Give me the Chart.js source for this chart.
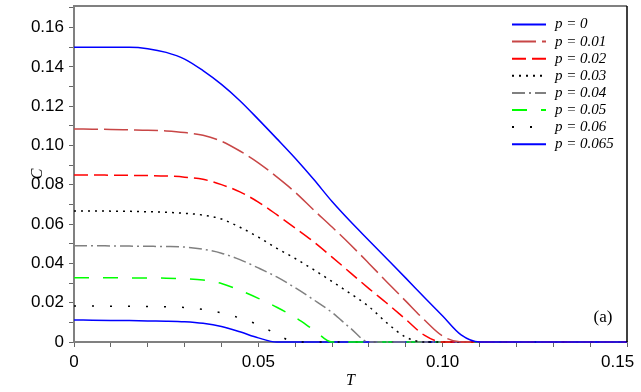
<!DOCTYPE html>
<html>
<head>
<meta charset="utf-8">
<script src="https://cdn.jsdelivr.net/npm/chart.js@4/dist/chart.umd.min.js"></script>
<style>
    body { margin: 0; background: #fff; }
    canvas { display: block; }
</style>
</head>
<body>
<canvas id="grafico" width="641" height="392"></canvas>
<script>
// valores de T (eje x)
const temperaturas = [0, 0.005, 0.01, 0.015, 0.02, 0.025, 0.03, 0.035, 0.04, 0.045, 0.05, 0.055, 0.06, 0.065, 0.07, 0.075,
    0.08, 0.085, 0.09, 0.095, 0.1, 0.105, 0.11, 0.115, 0.12, 0.125, 0.13, 0.135, 0.14, 0.145, 0.15];

// C para cada p
const cP0 = [0.150, 0.150, 0.150, 0.150, 0.1493, 0.1474, 0.1440, 0.1381, 0.1311, 0.1228, 0.1133, 0.1035, 0.0935, 0.0828, 0.0715, 0.0613,
    0.0517, 0.0421, 0.0325, 0.0228, 0.0132, 0.0036, 0, 0, 0, 0, 0, 0, 0, 0, 0];
const cP001 = [0.1084, 0.1083, 0.1082, 0.1080, 0.1078, 0.1074, 0.1066, 0.1052, 0.1022, 0.0972, 0.0912, 0.0840, 0.0762, 0.0672, 0.0585, 0.0495,
    0.0400, 0.0303, 0.0208, 0.0113, 0.0030, 0, 0, 0, 0, 0, 0, 0, 0, 0, 0];
const cP002 = [0.0850, 0.0850, 0.0849, 0.0848, 0.0847, 0.0845, 0.0839, 0.0828, 0.0801, 0.0764, 0.0712, 0.0648, 0.0580, 0.0510, 0.0432, 0.0352,
    0.0272, 0.0195, 0.0115, 0.0035, 0, 0, 0, 0, 0, 0, 0, 0, 0, 0, 0];
const cP003 = [0.0667, 0.0667, 0.0666, 0.0665, 0.0663, 0.0660, 0.0655, 0.0646, 0.0626, 0.0584, 0.0534, 0.0477, 0.0425, 0.0368, 0.0308, 0.0246,
    0.0180, 0.0095, 0.0025, 0, 0, 0, 0, 0, 0, 0, 0, 0, 0, 0, 0];
const cP004 = [0.0490, 0.0490, 0.0489, 0.0488, 0.0487, 0.0486, 0.0483, 0.0472, 0.0452, 0.0419, 0.0377, 0.0331, 0.0276, 0.0215, 0.0150, 0.0070,
    0, 0, 0, 0, 0, 0, 0, 0, 0, 0, 0, 0, 0, 0, 0];
const cP005 = [0.0327, 0.0327, 0.0327, 0.0326, 0.0326, 0.0325, 0.0322, 0.0315, 0.0298, 0.0263, 0.0222, 0.0177, 0.0125, 0.0062, 0, 0,
    0, 0, 0, 0, 0, 0, 0, 0, 0, 0, 0, 0, 0, 0, 0];
const cP006 = [0.0183, 0.0183, 0.0182, 0.0182, 0.0181, 0.0179, 0.0176, 0.0166, 0.0148, 0.0122, 0.0087, 0.0040, 0, 0, 0, 0,
    0, 0, 0, 0, 0, 0, 0, 0, 0, 0, 0, 0, 0, 0, 0];
const cP0065 = [0.0112, 0.0111, 0.0110, 0.0109, 0.0107, 0.0106, 0.0103, 0.0095, 0.0079, 0.0052, 0.0021, 0, 0, 0, 0, 0,
    0, 0, 0, 0, 0, 0, 0, 0, 0, 0, 0, 0, 0, 0, 0];

const etiquetas = ['p = 0', 'p = 0.01', 'p = 0.02', 'p = 0.03', 'p = 0.04', 'p = 0.05', 'p = 0.06', 'p = 0.065'];

// marcas de los ejes
const xTickValores = [0, 0.05, 0.10, 0.15];
const xTickEtiquetas = ['0', '0.05', '0.10', '0.15'];
const yTickValores = [0, 0.02, 0.04, 0.06, 0.08, 0.10, 0.12, 0.14, 0.16];
const yTickEtiquetas = ['0', '0.02', '0.04', '0.06', '0.08', '0.10', '0.12', '0.14', '0.16'];

function serie(valores) {
    return temperaturas.map((t, i) => ({ x: t, y: valores[i] }));
}

function buscarEtiqueta(valor, valores, textos) {
    const i = valores.findIndex(v => Math.abs(v - valor) < 1e-9);
    return i < 0 ? '' : textos[i];
}

const estilos = [
    { color: '#0000ff', dash: [] },
    { color: 'rgb(200,70,70)', dash: [24, 6] },
    { color: '#ff0000', dash: [14, 6] },
    { color: '#000000', dash: [2, 5] },
    { color: '#808080', dash: [13, 4, 2, 4] },
    { color: '#00ff00', dash: [15, 14] },
    { color: '#000000', dash: [2, 16] },
    { color: '#0000ff', dash: [] }
];
const series = [cP0, cP001, cP002, cP003, cP004, cP005, cP006, cP0065];

const datasets = series.map((valores, i) => ({
    label: etiquetas[i],
    data: serie(valores),
    borderColor: estilos[i].color,
    borderDash: estilos[i].dash,
    borderWidth: 1.5,
    pointRadius: 0,
    cubicInterpolationMode: 'monotone',
    fill: false,
    clip: false
}));

// marco superior/derecho, leyenda y "(a)"
const marcoYLeyenda = {
    id: 'marcoYLeyenda',
    afterDraw(chart) {
        const { ctx, chartArea: a } = chart;
        ctx.save();
        ctx.strokeStyle = '#808080';
        ctx.lineWidth = 2;
        ctx.beginPath();
        ctx.moveTo(a.left, a.top);
        ctx.lineTo(a.right, a.top);
        ctx.stroke();
        ctx.strokeStyle = '#000';
        ctx.lineWidth = 1.5;
        ctx.beginPath();
        ctx.moveTo(a.right, a.top);
        ctx.lineTo(a.right, a.bottom);
        ctx.stroke();

        ctx.textBaseline = 'middle';
        chart.data.datasets.forEach((ds, i) => {
            const y = 24.5 + i * 17.1;
            ctx.strokeStyle = ds.borderColor;
            ctx.lineWidth = 2;
            ctx.setLineDash(ds.borderDash);
            ctx.beginPath();
            ctx.moveTo(512, y);
            ctx.lineTo(546, y);
            ctx.stroke();
            ctx.setLineDash([]);
            ctx.fillStyle = '#000';
            ctx.font = 'italic 15px "Liberation Serif"';
            ctx.fillText(ds.label, 555, y);
        });

        ctx.font = '17px "Liberation Serif"';
        ctx.textAlign = 'center';
        ctx.fillText('(a)', 603, 318);
        ctx.restore();
    }
};

const ctx = document.getElementById('grafico').getContext('2d');
new Chart(ctx, {
    type: 'line',
    data: { datasets },
    plugins: [marcoYLeyenda],
    options: {
        responsive: false,
        animation: false,
        layout: { padding: { top: 6, right: 14, left: 0, bottom: 0 } },
        plugins: { legend: { display: false }, tooltip: { enabled: false } },
        scales: {
            x: {
                type: 'linear',
                min: 0,
                max: 0.15,
                afterBuildTicks: s => {
                    const marcas = [];
                    for (let i = 0; i <= 15; i++) marcas.push({ value: i / 100 });
                    s.ticks = marcas;
                },
                afterFit: s => { s.height = 50; s.paddingLeft = 0; s.paddingRight = 0; },
                ticks: {
                    autoSkip: false,
                    maxRotation: 0,
                    padding: 5,
                    color: '#000',
                    font: { family: 'Liberation Sans', size: 17 },
                    callback: value => {
                        const txt = buscarEtiqueta(value, xTickValores, xTickEtiquetas);
                        return Math.abs(value - 0.15) < 1e-9 ? txt + '\u2007\u2007' : txt;
                    }
                },
                grid: { drawOnChartArea: false, drawTicks: true, tickLength: 5, color: '#666' },
                border: { color: '#808080', width: 2 },
                title: {
                    display: true,
                    text: 'T',
                    color: '#000',
                    font: { family: 'Liberation Serif', style: 'italic', size: 16 },
                    padding: { top: 0, bottom: 2 }
                }
            },
            y: {
                type: 'linear',
                min: 0,
                max: 0.171,
                afterBuildTicks: s => {
                    const marcas = [];
                    for (let i = 0; i <= 17; i++) marcas.push({ value: i / 100 });
                    s.ticks = marcas;
                },
                afterFit: s => { s.width = 74; s.paddingTop = 0; s.paddingBottom = 0; },
                ticks: {
                    autoSkip: false,
                    padding: 5,
                    color: '#000',
                    font: { family: 'Liberation Sans', size: 17 },
                    callback: value => buscarEtiqueta(value, yTickValores, yTickEtiquetas)
                },
                grid: { drawOnChartArea: false, drawTicks: true, tickLength: 5, color: '#666' },
                border: { color: '#808080', width: 2 },
                title: {
                    display: true,
                    text: 'C',
                    color: '#000',
                    font: { family: 'Liberation Serif', style: 'italic', size: 16 },
                    padding: { top: 28, bottom: 0 }
                }
            }
        }
    }
});
</script>
</body>
</html>
